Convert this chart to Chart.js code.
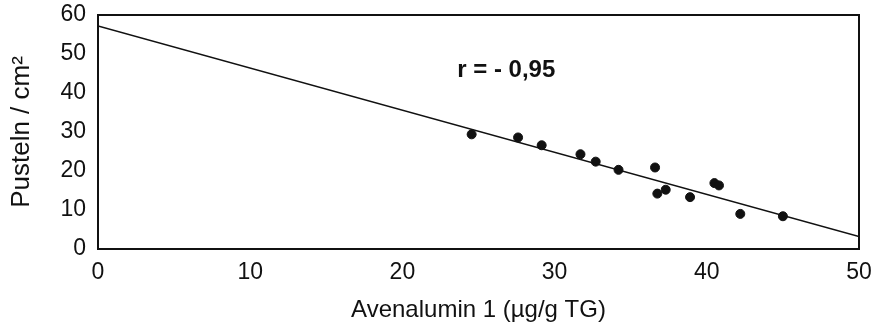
<!DOCTYPE html>
<html>
<head>
<meta charset="utf-8">
<script src="https://cdn.jsdelivr.net/npm/chart.js@4"></script>
<style>
  html, body { margin: 0; padding: 0; background: #ffffff; }
  #wrap { width: 879px; height: 325px; position: relative; }
</style>
</head>
<body>
<div id="wrap"><canvas id="c" width="879" height="325"></canvas></div>
<script>
// Data
const avenalumin = [24.55, 27.6, 29.15, 31.7, 32.7, 34.2, 36.6, 36.75, 37.3, 38.9, 40.5, 40.8, 42.2, 45.0];
const pusteln    = [29.4, 28.6, 26.6, 24.3, 22.4, 20.3, 20.9, 14.2, 15.2, 13.3, 16.9, 16.3, 9.0, 8.4];
const regressionX = [0, 50];
const regressionY = [57.2, 3.2];
const xTicks = [0, 10, 20, 30, 40, 50];
const yTicks = [0, 10, 20, 30, 40, 50, 60];
const annotationText = "r = - 0,95";
const annotationPos = [23.6, 45.9];

const pointData = avenalumin.map((x, i) => ({ x: x, y: pusteln[i] }));
const lineData = regressionX.map((x, i) => ({ x: x, y: regressionY[i] }));

const frame = {
  id: 'frame',
  afterDatasetsDraw(chart) {
    const { ctx, chartArea: a, scales } = chart;
    ctx.save();
    ctx.strokeStyle = '#111';
    ctx.lineWidth = 2;
    ctx.strokeRect(a.left, a.top, a.right - a.left, a.bottom - a.top);
    ctx.fillStyle = '#111';
    ctx.font = 'bold 24px "Liberation Sans", Arial, sans-serif';
    ctx.textBaseline = 'middle';
    ctx.textAlign = 'left';
    ctx.fillText(annotationText, scales.x.getPixelForValue(annotationPos[0]), scales.y.getPixelForValue(annotationPos[1]));
    ctx.restore();
  }
};

const tickFont = { family: '"Liberation Sans", Arial, sans-serif', size: 23 };
const xTitleFont = { family: '"Liberation Sans", Arial, sans-serif', size: 24 };
const yTitleFont = { family: '"Liberation Sans", Arial, sans-serif', size: 26 };

new Chart(document.getElementById('c'), {
  type: 'scatter',
  data: {
    datasets: [
      {
        type: 'line',
        data: lineData,
        borderColor: '#111',
        borderWidth: 1.6,
        pointRadius: 0,
        fill: false,
        tension: 0
      },
      {
        type: 'scatter',
        data: pointData,
        backgroundColor: '#111',
        borderColor: '#111',
        pointRadius: 4.5,
        pointHoverRadius: 4.5
      }
    ]
  },
  options: {
    responsive: false,
    animation: false,
    events: [],
    layout: { padding: { top: 15, right: 20, left: 0, bottom: 0 } },
    plugins: { legend: { display: false }, tooltip: { enabled: false } },
    scales: {
      x: {
        type: 'linear',
        min: 0, max: 50,
        afterBuildTicks(axis) { axis.ticks = xTicks.map(v => ({ value: v })); },
        afterFit(axis) { axis.height = 76; axis.paddingLeft = 0; axis.paddingRight = 0; },
        grid: { display: false, drawTicks: false },
        border: { display: false },
        ticks: { color: '#111', font: tickFont, padding: 10, maxRotation: 0 },
        title: { display: true, text: 'Avenalumin 1 (µg/g TG)', color: '#111', font: xTitleFont, padding: { top: 0, bottom: 0 } }
      },
      y: {
        type: 'linear',
        min: 0, max: 60,
        afterBuildTicks(axis) { axis.ticks = yTicks.map(v => ({ value: v })); },
        afterFit(axis) { axis.width = 98; axis.paddingTop = 0; axis.paddingBottom = 0; },
        grid: { display: false, drawTicks: false },
        border: { display: false },
        ticks: { color: '#111', font: tickFont, padding: 12 },
        title: { display: true, text: 'Pusteln / cm²', color: '#111', font: yTitleFont, padding: { top: 6, bottom: 0 } }
      }
    }
  },
  plugins: [frame]
});
</script>
</body>
</html>
